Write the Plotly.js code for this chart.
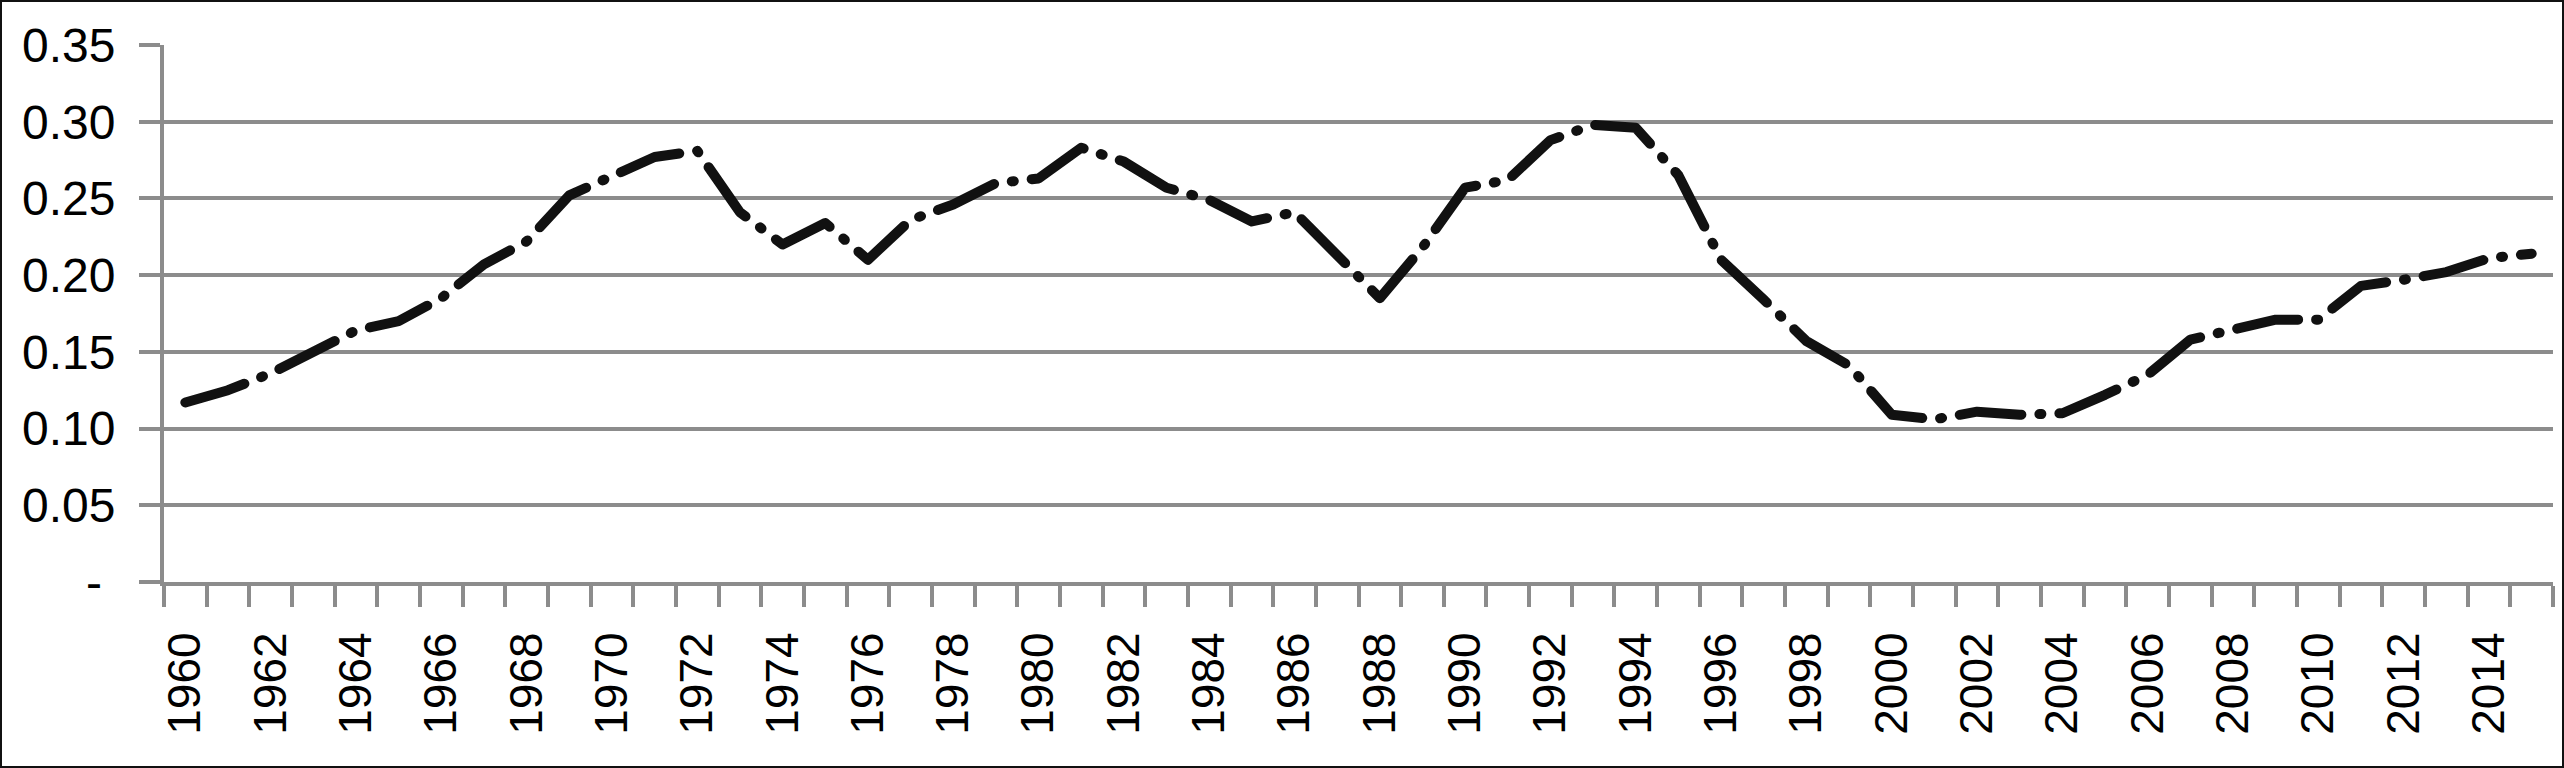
<!DOCTYPE html>
<html>
<head>
<meta charset="utf-8">
<script src="https://cdn.plot.ly/plotly-3.0.1.min.js"></script>
<style>
  body { margin: 0; background: #fff; }
  #frame { width: 2560px; height: 764px; border: 2px solid #111; }
  #chart { width: 2560px; height: 764px; }
  /* round caps like the original dash-dot line */
  .js-line { stroke-linecap: round; stroke-linejoin: round; }
</style>
</head>
<body>
<div id="frame"><div id="chart"></div></div>
<script>
// years (categories)
var years = [1960, 1961, 1962, 1963, 1964, 1965, 1966, 1967, 1968, 1969,
  1970, 1971, 1972, 1973, 1974, 1975, 1976, 1977, 1978, 1979,
  1980, 1981, 1982, 1983, 1984, 1985, 1986, 1987, 1988, 1989,
  1990, 1991, 1992, 1993, 1994, 1995, 1996, 1997, 1998, 1999,
  2000, 2001, 2002, 2003, 2004, 2005, 2006, 2007, 2008, 2009,
  2010, 2011, 2012, 2013, 2014, 2015];

// values
var values = [0.117, 0.125, 0.136, 0.150, 0.164, 0.170, 0.185, 0.207, 0.222, 0.252,
  0.264, 0.277, 0.281, 0.241, 0.220, 0.234, 0.210, 0.236, 0.246, 0.260,
  0.263, 0.283, 0.274, 0.257, 0.249, 0.235, 0.241, 0.213, 0.185, 0.218,
  0.257, 0.262, 0.288, 0.298, 0.296, 0.265, 0.210, 0.184, 0.157, 0.141,
  0.109, 0.106, 0.111, 0.109, 0.110, 0.122, 0.135, 0.158, 0.165, 0.171,
  0.171, 0.193, 0.197, 0.202, 0.211, 0.214];

// labelled years on the x axis (every other year)
var xTickYears = [1960, 1962, 1964, 1966, 1968, 1970, 1972, 1974, 1976, 1978,
  1980, 1982, 1984, 1986, 1988, 1990, 1992, 1994, 1996, 1998,
  2000, 2002, 2004, 2006, 2008, 2010, 2012, 2014];
var xTickText = xTickYears.map(function (y) { return "" + y; });

// y axis ticks, zero shown as a dash
var yTickVals = [0, 0.05, 0.10, 0.15, 0.20, 0.25, 0.30, 0.35];
var yTickText = ["-\u00a0", "0.05", "0.10", "0.15", "0.20", "0.25", "0.30", "0.35"];

var gridGrey = "#8c8c8c";
var fontFam = "Liberation Sans, Arial, sans-serif";

var trace = {
  x: years,
  y: values,
  type: "scatter",
  mode: "lines",
  line: { color: "#111111", width: 10, dash: "62px,18px,2px,18px" },
  hoverinfo: "x+y"
};

var layout = {
  width: 2560,
  height: 764,
  margin: { l: 162, r: 9, t: 43, b: 184, pad: 0 },
  paper_bgcolor: "#ffffff",
  plot_bgcolor: "#ffffff",
  showlegend: false,
  font: { family: fontFam, size: 48, color: "#000000" },
  xaxis: {
    range: [1959.5, 2015.5],
    tickmode: "array",
    tickvals: xTickYears,
    ticktext: xTickText,
    tickangle: -90,
    tickfont: { family: fontFam, size: 46, color: "#000000" },
    ticks: "outside",
    ticklen: 21,
    tickcolor: "rgba(0,0,0,0)",
    ticklabelstandoff: 7,
    showgrid: false,
    zeroline: false,
    showline: true,
    linecolor: gridGrey,
    linewidth: 4,
    minor: {
      tick0: 1959.5,
      dtick: 1,
      ticks: "outside",
      ticklen: 21,
      tickwidth: 4,
      tickcolor: gridGrey,
      showgrid: false
    },
    automargin: false,
    fixedrange: true
  },
  yaxis: {
    range: [0, 0.35],
    tickmode: "array",
    tickvals: yTickVals,
    ticktext: yTickText,
    tickfont: { family: fontFam, size: 48, color: "#000000" },
    ticks: "outside",
    ticklen: 21,
    tickwidth: 4,
    tickcolor: gridGrey,
    ticklabelstandoff: 14,
    showgrid: true,
    gridcolor: gridGrey,
    gridwidth: 4,
    zeroline: false,
    showline: true,
    linecolor: gridGrey,
    linewidth: 4,
    automargin: false,
    fixedrange: true
  }
};

Plotly.newPlot("chart", [trace], layout, { displayModeBar: false, staticPlot: true });
</script>
</body>
</html>
